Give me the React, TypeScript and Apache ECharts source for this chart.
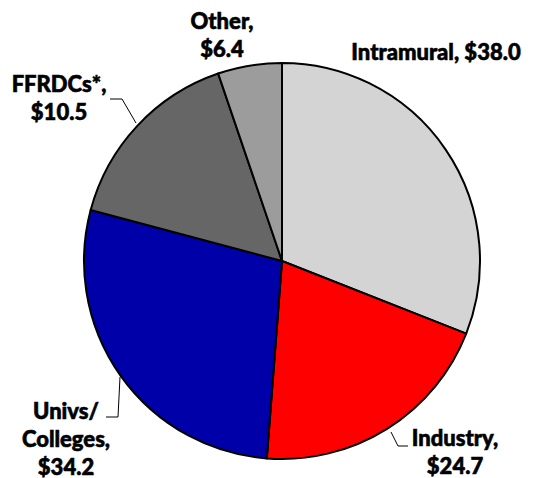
import React, { useEffect, useRef } from "react";
import * as echarts from "echarts";

// Category names (line breaks as in the reference labels)
const categories = ["Intramural", "Industry", "Univs/\nColleges", "FFRDCs*", "Other"];
// Dollar amounts printed in the labels
const labelValues = [38.0, 24.7, 34.2, 10.5, 6.4];
// Slice shares as drawn in the reference (arc sizes in degrees)
const sliceShares = [111.5, 72.9, 100.5, 56.3, 18.8];
// Separator between name and amount in each label
const separators = [" ", "\n", "\n", "\n", "\n"];
const colors = ["#D4D4D4", "#FF0000", "#0000A8", "#666666", "#9C9C9C"];
const showLine = [false, true, true, true, false];

// Label layout (positions only)
const labelPos: [number, number][] = [
  [436, 51],
  [455, 451],
  [66, 438],
  [59, 97],
  [222, 34],
];
const linePts: ([number, number][] | null)[] = [
  null,
  [[391, 432], [398, 446], [408, 446]],
  [[120, 377], [118, 417], [106, 417]],
  [[136, 123], [122, 99], [110, 99]],
  null,
];

export default function App() {
  const ref = useRef<HTMLDivElement>(null);
  useEffect(() => {
    document.body.style.margin = "0";
    const chart = echarts.init(ref.current!, null, { renderer: "svg" });
    chart.setOption({
      animation: false,
      backgroundColor: "#ffffff",
      series: [
        {
          type: "pie",
          center: [282, 261],
          radius: 198,
          startAngle: 90,
          clockwise: true,
          avoidLabelOverlap: false,
          itemStyle: { borderColor: "#000000", borderWidth: 2 },
          label: {
            show: true,
            color: "#000000",
            fontFamily: "Lato",
            fontWeight: 900,
            fontSize: 22,
            lineHeight: 28,
            align: "center",
            textBorderColor: "#000000",
            textBorderWidth: 0.6,
            formatter: (p: any) =>
              `${categories[p.dataIndex]},${separators[p.dataIndex]}$${labelValues[p.dataIndex].toFixed(1)}`,
          },
          labelLine: { show: true, lineStyle: { color: "#000000", width: 1 } },
          labelLayout: (params: any) => {
            const i = params.dataIndex;
            const res: any = {
              x: labelPos[i][0],
              y: labelPos[i][1],
              align: "center",
              verticalAlign: "middle",
            };
            if (linePts[i]) res.labelLinePoints = linePts[i];
            return res;
          },
          data: categories.map((c, i) => ({
            name: c,
            value: sliceShares[i],
            itemStyle: { color: colors[i] },
            labelLine: { show: showLine[i] },
          })),
        },
      ],
    });
    return () => chart.dispose();
  }, []);
  return <div ref={ref} style={{ width: 540, height: 478 }} />;
}
